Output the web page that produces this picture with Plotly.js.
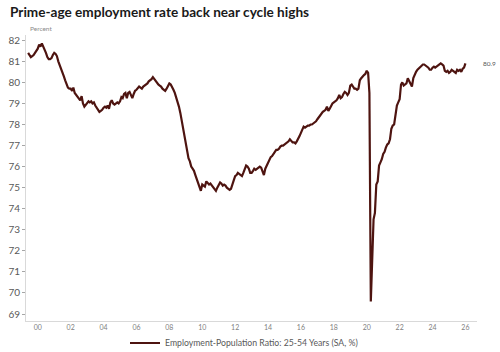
<!DOCTYPE html>
<html>
<head>
<meta charset="utf-8">
<script src="https://cdn.plot.ly/plotly-3.0.1.min.js"></script>
<style>html,body{margin:0;padding:0;background:#fff;}#chart{width:500px;height:352px;}</style>
</head>
<body>
<div id="chart"></div>
<script>
// Prime-age (25-54) employment-population ratio, monthly, from Jun 1999
const startYear = 1999, startMonth = 6;
const v1999 = [81.4, 81.3, 81.2, 81.25, 81.3, 81.4, 81.5];
const v2000 = [81.6, 81.8, 81.7, 81.85, 81.7, 81.6, 81.4, 81.2, 81.1, 81.1, 81.15, 81.3];
const v2001 = [81.4, 81.35, 81.25, 81.0, 80.8, 80.6, 80.4, 80.3, 80.1, 79.9, 79.75, 79.7];
const v2002 = [79.7, 79.6, 79.75, 79.5, 79.4, 79.3, 79.2, 79.15, 79.35, 79.0, 78.85, 78.95];
const v2003 = [79.05, 79.1, 79.05, 79.1, 79.0, 79.05, 78.9, 78.8, 78.7, 78.6, 78.65, 78.7];
const v2004 = [78.8, 78.85, 78.8, 78.9, 78.75, 79.05, 79.15, 79.0, 78.95, 79.0, 79.05, 79.0];
const v2005 = [79.1, 79.3, 79.25, 79.45, 79.5, 79.25, 79.5, 79.55, 79.4, 79.25, 79.45, 79.6];
const v2006 = [79.65, 79.75, 79.8, 79.75, 79.7, 79.8, 79.85, 79.9, 79.95, 80.05, 80.1, 80.15];
const v2007 = [80.25, 80.15, 80.1, 80.0, 79.9, 79.85, 79.8, 79.7, 79.65, 79.6, 79.7, 79.8];
const v2008 = [79.95, 79.9, 79.8, 79.65, 79.5, 79.3, 79.05, 78.85, 78.55, 78.2, 77.9, 77.5];
const v2009 = [77.1, 76.8, 76.4, 76.25, 76.0, 75.9, 75.8, 75.6, 75.4, 75.15, 75.05, 74.85];
const v2010 = [75.15, 75.1, 75.05, 75.3, 75.2, 75.15, 75.2, 75.1, 75.0, 74.95, 74.85, 75.0];
const v2011 = [75.15, 75.25, 75.2, 75.1, 75.15, 75.1, 75.0, 74.95, 74.9, 74.95, 75.2, 75.35];
const v2012 = [75.55, 75.6, 75.7, 75.65, 75.6, 75.55, 75.7, 75.9, 76.05, 76.0, 75.9, 75.7];
const v2013 = [75.7, 75.8, 75.9, 75.85, 75.9, 75.95, 76.0, 75.95, 75.8, 75.6, 75.9, 76.05];
const v2014 = [76.2, 76.4, 76.45, 76.5, 76.6, 76.75, 76.8, 76.8, 76.85, 76.95, 77.0, 77.0];
const v2015 = [77.05, 77.1, 77.15, 77.2, 77.3, 77.2, 77.15, 77.15, 77.1, 77.2, 77.3, 77.45];
const v2016 = [77.6, 77.8, 77.9, 77.85, 77.9, 77.95, 77.95, 78.0, 78.0, 78.05, 78.1, 78.15];
const v2017 = [78.25, 78.35, 78.45, 78.5, 78.6, 78.65, 78.7, 78.85, 78.65, 78.75, 78.9, 79.0];
const v2018 = [79.05, 79.1, 79.15, 79.25, 79.4, 79.25, 79.3, 79.45, 79.55, 79.5, 79.4, 79.5];
const v2019 = [79.85, 79.9, 79.8, 79.7, 79.7, 79.65, 79.7, 80.1, 80.2, 80.3, 80.35, 80.4];
const v2020 = [80.55, 80.45, 79.5, 69.6, 71.4, 73.5, 73.8, 75.15, 75.3, 76.05, 76.2, 76.35];
const v2021 = [76.6, 76.7, 76.9, 77.05, 77.1, 77.3, 77.8, 77.95, 78.0, 78.4, 78.9, 79.05];
const v2022 = [79.2, 79.9, 80.0, 79.85, 79.9, 79.95, 80.2, 80.05, 79.95, 79.8, 80.2, 80.4];
const v2023 = [80.5, 80.6, 80.65, 80.7, 80.75, 80.85, 80.85, 80.8, 80.75, 80.7, 80.6, 80.6];
const v2024 = [80.7, 80.75, 80.7, 80.75, 80.8, 80.85, 80.9, 80.85, 80.8, 80.55, 80.5, 80.55];
const v2025 = [80.45, 80.5, 80.6, 80.55, 80.5, 80.45, 80.6, 80.55, 80.6, 80.5, 80.65, 80.7];
const v2026 = [80.9];

const tickYears = [2000, 2002, 2004, 2006, 2008, 2010, 2012, 2014, 2016, 2018, 2020, 2022, 2024, 2026];
const tickLabels = ["00", "02", "04", "06", "08", "10", "12", "14", "16", "18", "20", "22", "24", "26"];
const yTicks = [69, 70, 71, 72, 73, 74, 75, 76, 77, 78, 79, 80, 81, 82];

const seriesName = "Employment-Population Ratio: 25-54 Years (SA, %)";
const chartTitle = "Prime-age employment rate back near cycle highs";
const unitLabel = "Percent";

const values = [].concat(v1999, v2000, v2001, v2002, v2003, v2004, v2005, v2006, v2007, v2008,
  v2009, v2010, v2011, v2012, v2013, v2014, v2015, v2016, v2017, v2018, v2019, v2020,
  v2021, v2022, v2023, v2024, v2025, v2026);

const dates = values.map((_, i) => {
  const m0 = startMonth - 1 + i;
  const y = startYear + Math.floor(m0 / 12);
  const m = (m0 % 12) + 1;
  return y + "-" + String(m).padStart(2, "0") + "-01";
});
const tickVals = tickYears.map(y => y + "-01-01");

const lineColor = "#4e1410";
const grayText = "#595959";
const font = "Lato, 'Open Sans', sans-serif";

const lastDate = dates[dates.length - 1];
const lastVal = values[values.length - 1];

const trace = {
  x: dates, y: values, type: "scatter", mode: "lines", name: seriesName,
  line: {color: lineColor, width: 2.2}, hoverinfo: "x+y"
};

const layout = {
  width: 500, height: 352,
  margin: {l: 26, r: 23, t: 35, b: 31, autoexpand: false},
  paper_bgcolor: "#fff", plot_bgcolor: "#fff",
  font: {family: font, color: grayText},
  title: {
    text: "<b>" + chartTitle + "</b>",
    x: 10 / 500, xref: "container", xanchor: "left",
    y: 1 - 12 / 352, yref: "container", yanchor: "middle",
    font: {family: font, size: 13.6, color: "#1a1a1a"}
  },
  xaxis: {
    type: "date", range: ["1999-04-15", "2026-09-15"],
    tickvals: tickVals, ticktext: tickLabels,
    ticks: "", showgrid: false, zeroline: false,
    showline: true, linecolor: "#d9d9d9", linewidth: 1,
    tickfont: {size: 7, color: "#7f7f7f", family: font}
  },
  yaxis: {
    range: [68.67, 82.25],
    tickvals: yTicks, ticks: "outside", ticklen: 3, tickcolor: "#a6a6a6",
    showgrid: false, zeroline: false,
    showline: true, linecolor: "#d9d9d9", linewidth: 1,
    tickfont: {size: 10, color: grayText, family: font}
  },
  showlegend: true,
  legend: {
    orientation: "h", x: 0.488, xref: "container", xanchor: "center",
    y: 9 / 352, yref: "container", yanchor: "middle",
    font: {size: 8.7, color: grayText, family: font}, bgcolor: "rgba(0,0,0,0)"
  },
  annotations: [
    {
      text: unitLabel, xref: "paper", yref: "paper", x: 0.004, y: 1.021,
      xanchor: "left", yanchor: "middle", showarrow: false,
      font: {size: 6.5, color: "#8c8c8c", family: font}
    },
    {
      text: lastVal.toFixed(1), x: lastDate, y: lastVal, xref: "x", yref: "y",
      xanchor: "left", yanchor: "middle", xshift: 16, showarrow: false,
      font: {size: 6.5, color: grayText, family: font}
    }
  ]
};

Plotly.newPlot("chart", [trace], layout, {displayModeBar: false, staticPlot: true});
</script>
</body>
</html>
